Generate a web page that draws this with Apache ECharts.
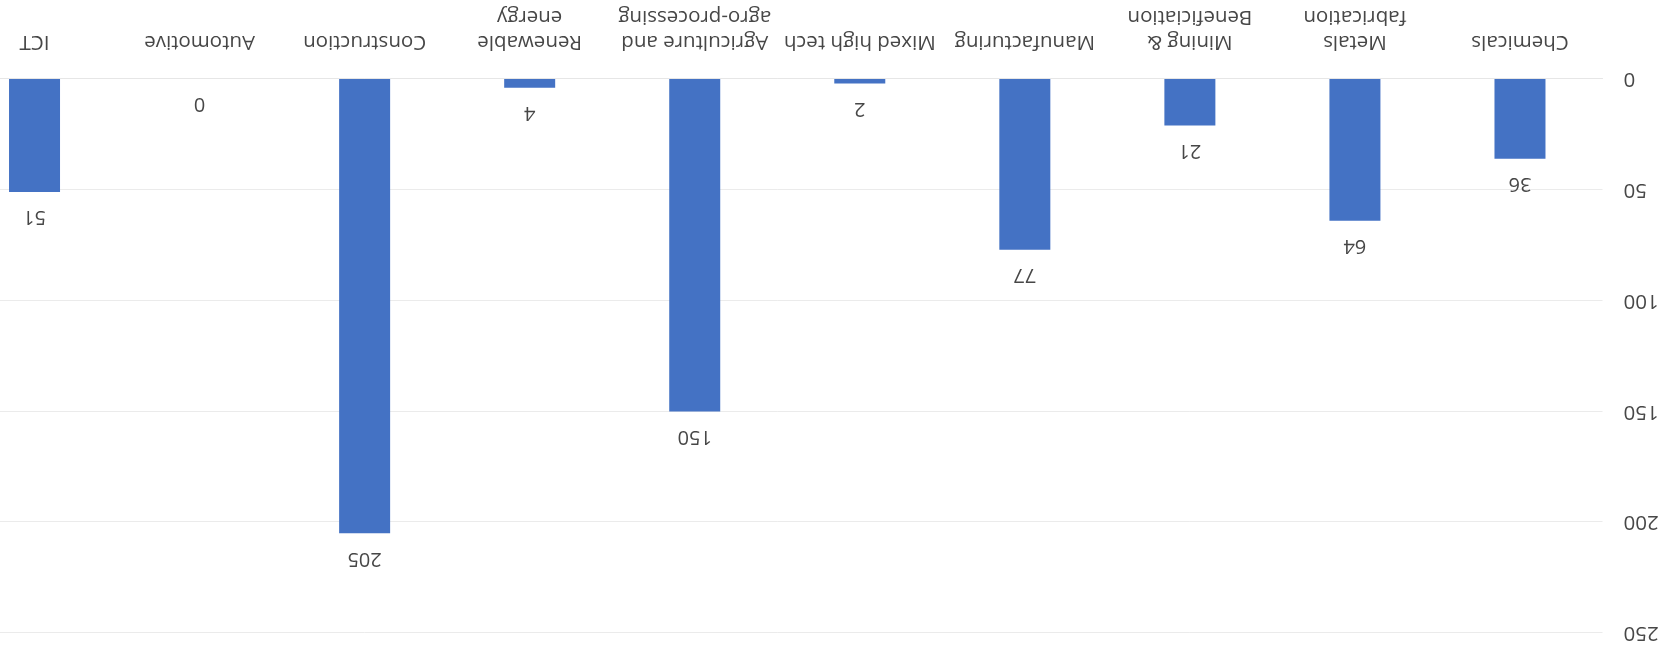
<!DOCTYPE html>
<html>
<head>
<meta charset="utf-8">
<script src="https://cdn.jsdelivr.net/npm/echarts@6/dist/echarts.min.js"></script>
<style>
  html, body { margin: 0; padding: 0; background: #ffffff; overflow: hidden; }
  #wrap { width: 1665px; height: 651px; overflow: hidden; position: relative;
          transform: rotate(180deg); transform-origin: 50% 50%; }
  #chart { width: 1713px; height: 651px; position: absolute; left: 0; top: 0; }
</style>
</head>
<body>
<div id="wrap"><div id="chart"></div></div>
<script>
// The reference chart is photographed upside down (rotated 180 degrees),
// and its plot is cut off at one side; the chart is drawn wider and clipped.
const categories = [
  "Chemicals",
  "Metals\nfabrication",
  "Mining &\nBeneficiation",
  "Manufacturing",
  "Mixed high tech",
  "Agriculture and\nagro-processing",
  "Renewable\nenergy",
  "Construction",
  "Automotive",
  "ICT"
];
const values = [36, 64, 21, 77, 2, 150, 4, 205, 0, 51];
const yMin = 0, yMax = 250, yStep = 50;

const textColor = "#474747";
const fontFamily = "'Open Sans', 'Liberation Sans', sans-serif";

const chart = echarts.init(document.getElementById("chart"), null, { renderer: "canvas" });
chart.setOption({
  animation: false,
  backgroundColor: "#ffffff",
  grid: { left: 62.5, top: 18, right: 0, bottom: 79, containLabel: false },
  xAxis: {
    type: "category",
    data: categories,
    axisTick: { show: false },
    axisLine: { show: true, lineStyle: { color: "#e6e6e6", width: 1 } },
    axisLabel: {
      color: textColor, fontFamily: fontFamily, fontSize: 20.5,
      lineHeight: 25, margin: 25, interval: 0
    }
  },
  yAxis: {
    type: "value",
    min: yMin, max: yMax, interval: yStep,
    axisLine: { show: false },
    axisTick: { show: false },
    axisLabel: { color: textColor, fontFamily: fontFamily, fontSize: 20.5, margin: 21 },
    splitLine: { show: true, lineStyle: { color: "#ebebeb", width: 1 } }
  },
  series: [{
    type: "bar",
    data: values,
    barWidth: 51,
    itemStyle: { color: "#4472C4" },
    label: {
      show: true, position: "top", distance: 15,
      color: textColor, fontFamily: fontFamily, fontSize: 20
    }
  }]
});
</script>
</body>
</html>
